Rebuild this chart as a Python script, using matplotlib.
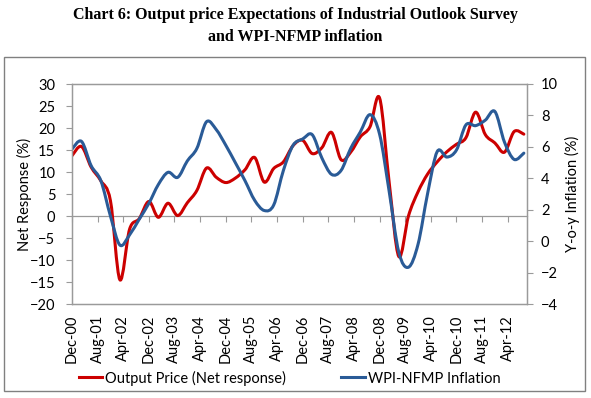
import matplotlib
matplotlib.use("Agg")
import matplotlib.pyplot as plt
import matplotlib.dates as mdates
import numpy as np
import pandas as pd
from matplotlib.path import Path
from matplotlib.patches import PathPatch, Rectangle
from matplotlib.lines import Line2D
from matplotlib.ticker import FixedLocator

plt.rcParams['font.family'] = ['Lato', 'DejaVu Sans']

# quarterly observations, Dec-00 .. Sep-12
quarters = pd.date_range("2000-12-01", periods=48, freq="3MS")

# Output price expectations (net response, %), left axis
output_price = [13.7, 15.8, 11.1, 8.0, 3.5, -14.5, -3.0, -0.6, 3.3, -0.3, 2.9, 0.1,
                3.0, 5.8, 10.9, 8.8, 7.6, 8.6, 10.5, 13.3, 7.7, 10.8, 12.3, 16.0,
                17.2, 14.2, 15.5, 19.0, 12.8, 14.5, 18.0, 20.3, 26.8, 7.8, -9.2, 0.0,
                5.5, 9.5, 12.3, 14.6, 16.3, 17.8, 23.6, 18.5, 16.6, 14.5, 19.2, 18.6]

# WPI-NFMP inflation (y-o-y, %), right axis
wpi_nfmp = [5.86, 6.35, 4.8, 3.85, 1.6, -0.25, 0.4, 1.4, 2.4, 3.6, 4.38, 4.06,
            5.1, 5.9, 7.6, 7.1, 6.1, 5.0, 3.85, 2.6, 1.95, 2.3, 4.5, 6.1,
            6.5, 6.78, 5.3, 4.25, 4.5, 5.9, 6.95, 8.05, 6.8, 3.2, -0.7, -1.66,
            -0.2, 3.0, 5.7, 5.35, 5.8, 7.4, 7.35, 7.7, 8.25, 6.3, 5.2, 5.6]

tick_dates = pd.date_range("2000-12-01", "2012-04-01", freq="8MS")

RED = '#CC0000'
BLUE = '#2A5B97'
GRAY = '#9A9A9A'
FS = 10.5


def smooth_path(x, y):
    # excel-like smoothed line: bezier segments through every point
    n = len(x)
    verts = [(x[0], y[0])]
    codes = [Path.MOVETO]
    for i in range(n - 1):
        a = i - 1 if i > 0 else i
        d = i + 2 if i + 2 < n else i + 1
        c1 = (x[i] + (x[i + 1] - x[a]) / 6, y[i] + (y[i + 1] - y[a]) / 6)
        c2 = (x[i + 1] - (x[d] - x[i]) / 6, y[i + 1] - (y[d] - y[i]) / 6)
        verts += [c1, c2, (x[i + 1], y[i + 1])]
        codes += [Path.CURVE4] * 3
    return Path(verts, codes)


xq = mdates.date2num(quarters)
xt = mdates.date2num(tick_dates)

fig = plt.figure(figsize=(5.91, 3.98), dpi=100)
ax = fig.add_axes([72 / 591, 1 - 304 / 398, 455 / 591, 220 / 398])
ax2 = ax.twinx()

ax.add_patch(PathPatch(smooth_path(xq, output_price), facecolor='none',
                       edgecolor=RED, lw=2.2, capstyle='round', joinstyle='round'))
ax2.add_patch(PathPatch(smooth_path(xq, wpi_nfmp), facecolor='none',
                        edgecolor=BLUE, lw=2.2, capstyle='round', joinstyle='round'))

ax.set_xlim(mdates.date2num(pd.Timestamp("2000-12-01")),
            mdates.date2num(pd.Timestamp("2012-10-01")))
ax.set_ylim(-20, 30)
ax2.set_ylim(-4, 10)
ax.set_yticks(np.arange(-20, 31, 5))
ax2.set_yticks(np.arange(-4, 11, 2))

ax.xaxis.set_major_locator(FixedLocator(xt))
ax.xaxis.set_major_formatter(mdates.DateFormatter('%b-%y'))
ax.tick_params(axis='x', length=0, pad=8, labelsize=FS, rotation=90)
ax.tick_params(axis='y', length=4, color=GRAY, pad=8, labelsize=FS)
ax2.tick_params(axis='y', length=4, color=GRAY, pad=6, labelsize=FS)

for a in (ax, ax2):
    for s in a.spines.values():
        s.set_color(GRAY)
        s.set_linewidth(0.9)

# category axis crossing at zero
zero_axis = ax.secondary_xaxis((0 - (-20)) / 50)
zero_axis.xaxis.set_major_locator(FixedLocator(xt))
zero_axis.set_xticklabels([])
zero_axis.tick_params(axis='x', length=4, color=GRAY, direction='out')
zero_axis.spines['bottom'].set_color(GRAY)
zero_axis.spines['bottom'].set_linewidth(0.9)

ax.set_ylabel("Net Response (%)", fontsize=FS, labelpad=-2)
ax2.set_ylabel("Y-o-y Inflation (%)", fontsize=FS, labelpad=5)

handles = [Line2D([], [], color=RED, lw=2.2), Line2D([], [], color=BLUE, lw=2.2)]
fig.legend(handles, ["Output Price (Net response)", "WPI-NFMP Inflation"],
           loc='center', bbox_to_anchor=(0.49, 1 - 378 / 398), ncol=2, frameon=False,
           fontsize=FS, handlelength=1.6, handletextpad=0.2, columnspacing=3.8)

fig.add_artist(Rectangle((4 / 591, 1 - 391 / 398), 581 / 591, 334 / 398,
                         transform=fig.transFigure, fill=False, edgecolor='#808080', lw=1))

fig.text(0.5, 1 - 15 / 398, "Chart 6: Output price Expectations of Industrial Outlook Survey",
         ha='center', va='center', fontsize=11.5, fontweight='bold', family='Liberation Serif')
fig.text(0.5, 1 - 37 / 398, "and WPI-NFMP inflation",
         ha='center', va='center', fontsize=11.5, fontweight='bold', family='Liberation Serif')

fig.savefig("out.png", dpi=100)
